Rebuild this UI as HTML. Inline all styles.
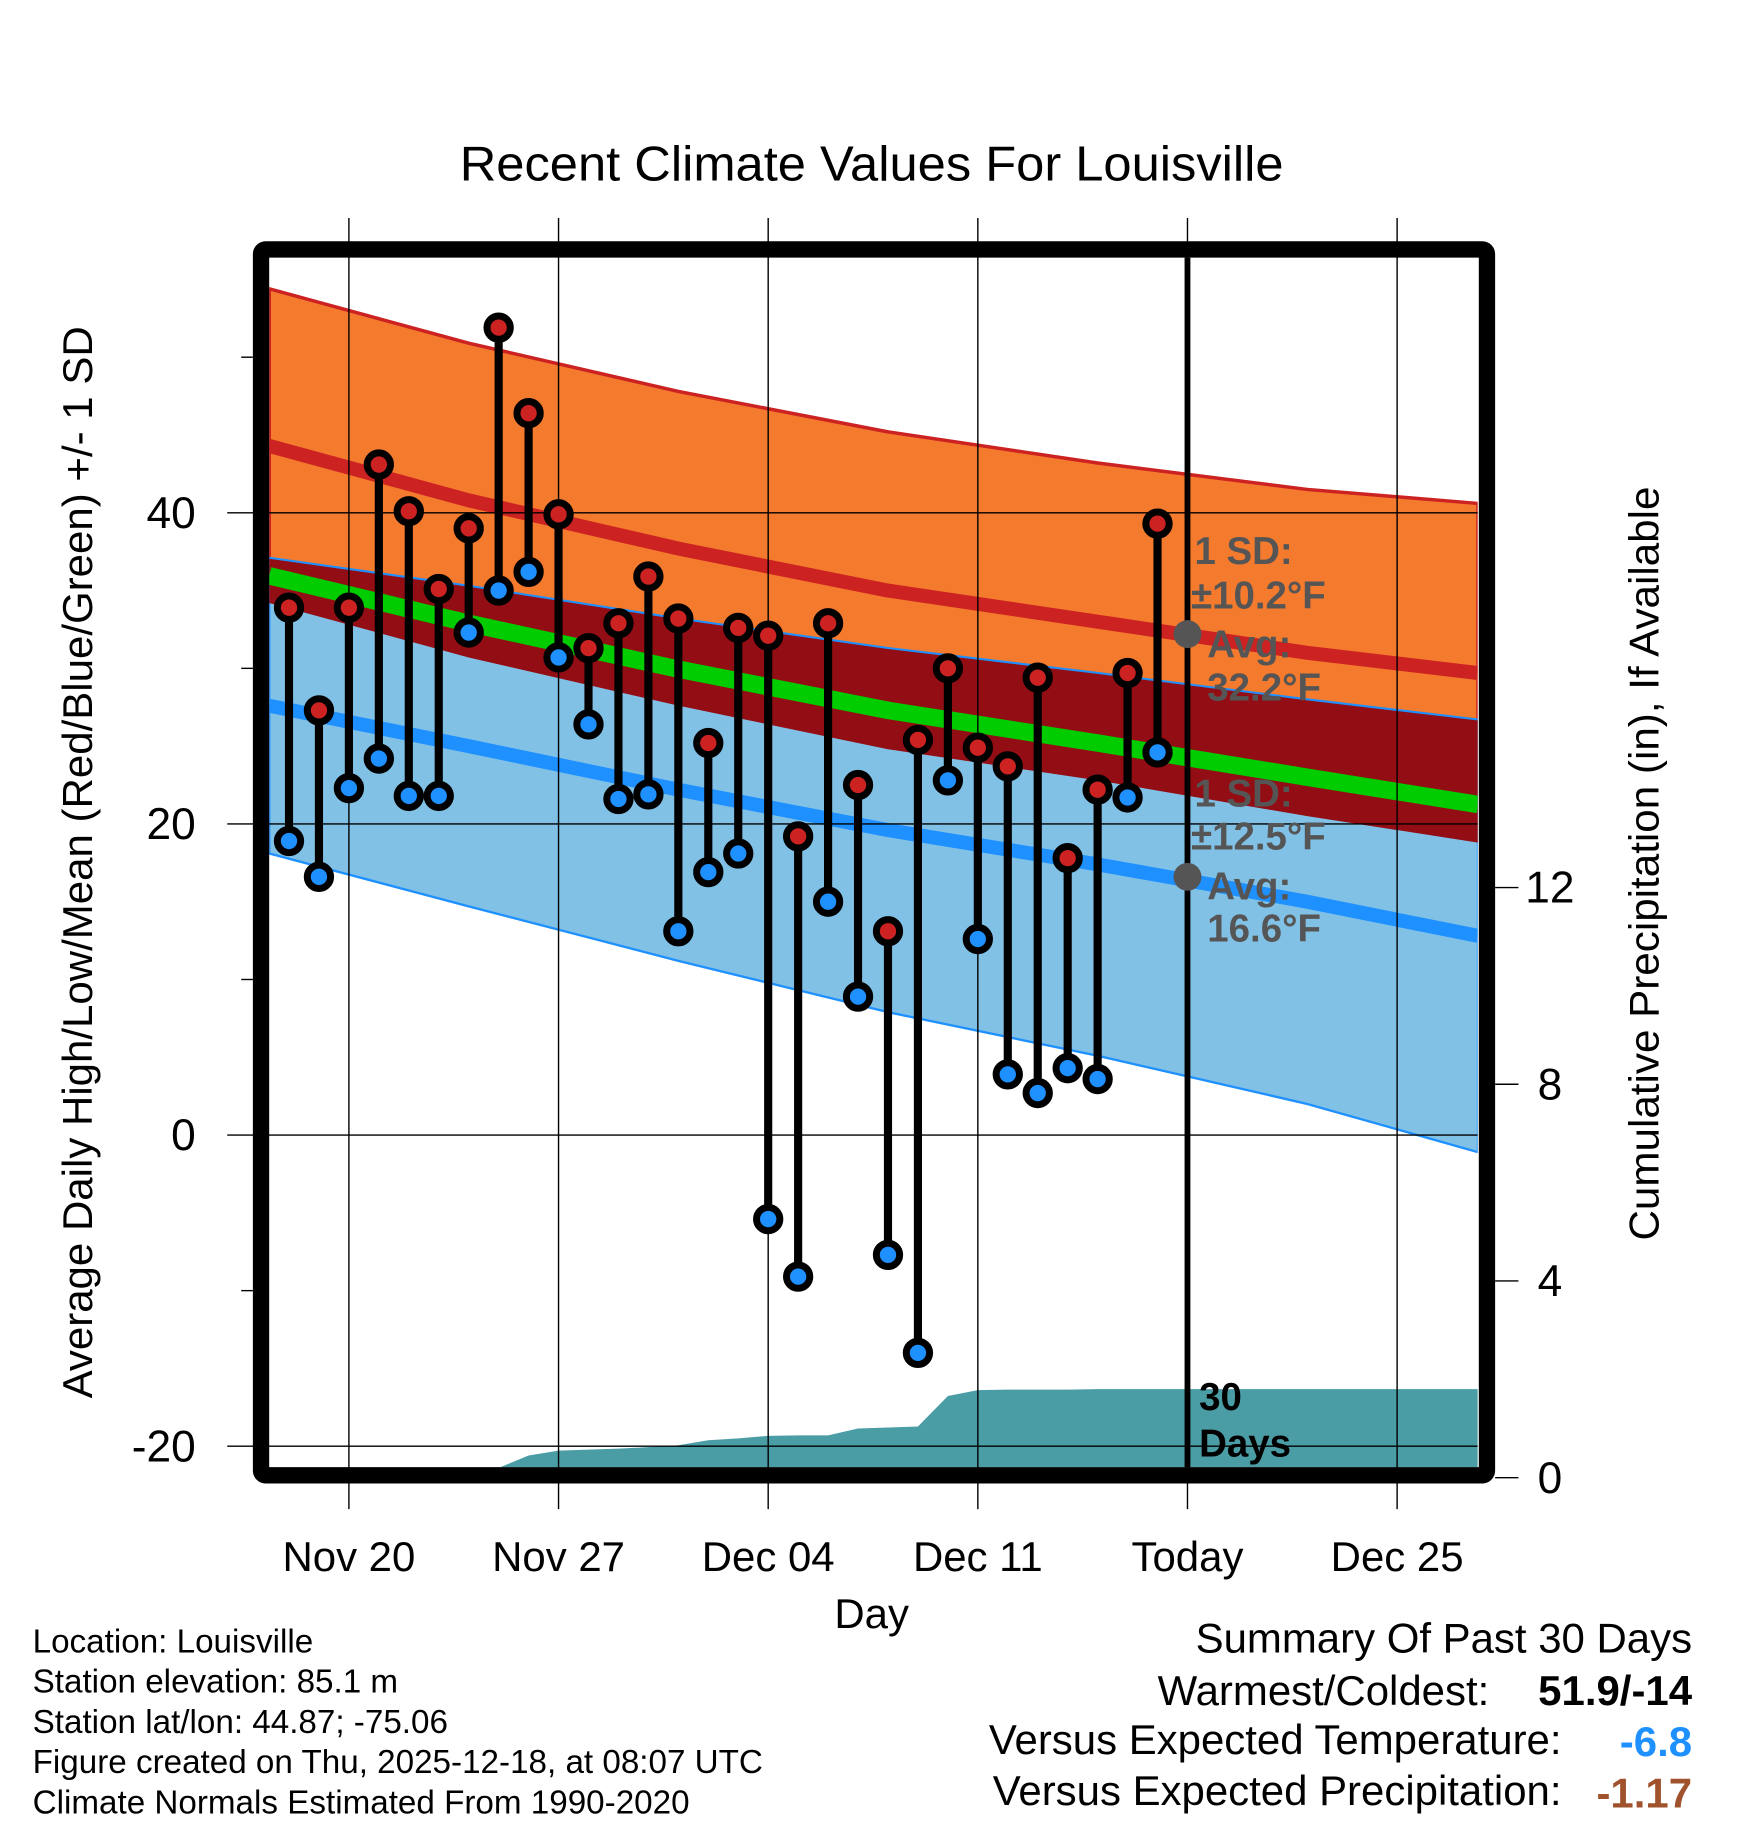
<!DOCTYPE html>
<html><head><meta charset="utf-8"><style>
html,body{margin:0;padding:0;background:#fff;}
svg{display:block;font-family:"Liberation Sans",sans-serif;}
</style></head><body>
<svg id="chart" width="1748" height="1828" viewBox="0 0 1500 1568.6" xmlns="http://www.w3.org/2000/svg">
<text x="748" y="155" font-size="42" text-anchor="middle" textLength="707" lengthAdjust="spacingAndGlyphs">Recent Climate Values For Louisville</text>
<g id="plot"></g>
</svg>
<script>
// ---- data ----
const dayLabels = ["Nov 20","Nov 27","Dec 04","Dec 11","Today","Dec 25"];
const dayLabelIdx = [3,10,17,24,31,38];
const highs = [33.9,27.3,33.9,43.1,40.1,35.1,39.0,51.9,46.4,39.9,31.3,32.9,35.9,33.2,25.2,32.6,32.1,19.2,32.9,22.5,13.1,25.4,30.0,24.9,23.7,29.4,17.8,22.2,29.7,39.3];
const lows  = [18.9,16.6,22.3,24.2,21.8,21.8,32.3,35.0,36.2,30.7,26.4,21.6,21.9,13.1,16.9,18.1,-5.4,-9.1,15.0,8.9,-7.7,-14.0,22.8,12.6,3.9,2.7,4.3,3.6,21.7,24.6];
const precip = [0,0,0,0,0,0,0,0.2,0.45,0.55,0.57,0.59,0.62,0.66,0.76,0.8,0.85,0.86,0.86,1.0,1.02,1.04,1.66,1.78,1.79,1.79,1.79,1.8,1.8,1.8];
const normDays = [0.34,7,14,21,28,35,40.7];
const normHigh = [44.3,40.8,37.7,35.0,33.0,31.0,29.7];
const sdHigh   = [10.1,10.1,10.1,10.2,10.2,10.5,10.9];
const normLow  = [27.6,25.0,22.2,19.6,17.4,15.0,12.8];
const sdLow    = [9.5,10.3,11.0,11.7,12.3,13.0,13.9];
const yTicks = [40,20,0,-20];
const yMinor = [50,30,10,-10];
const pTicks = [0,4,8,12];

// ---- scales ----
const X = d => 248 + (d-1)*25.7;
const Y = v => 974 - 13.35*v;
const P = p => 1268 - 42.2*p;
const L=231,R=1268,T=221,B=1259;
const NS="http://www.w3.org/2000/svg";
const g=document.getElementById('plot');
function mk(tag,attrs,parent){const e=document.createElementNS(NS,tag);for(const k in attrs)e.setAttribute(k,attrs[k]);(parent||g).appendChild(e);return e;}

const defs=mk('defs',{});
const cp=mk('clipPath',{id:'pc'},defs);mk('rect',{x:L,y:T,width:R-L,height:B-T},cp);
const pg=mk('g',{'clip-path':'url(#pc)'});

function series(fn){return normDays.map((d,i)=>[X(d),Y(fn(i))]);}
function band(top,bot){const a=top.concat(bot.slice().reverse());return a.map(p=>p.join(',')).join(' ');}
const hiT=series(i=>normHigh[i]+sdHigh[i]), hiB=series(i=>normHigh[i]-sdHigh[i]);
const loT=series(i=>normLow[i]+sdLow[i]), loB=series(i=>normLow[i]-sdLow[i]);
let e;
e=mk('polygon',{points:band(hiT,hiB),fill:'#f47a2e',stroke:'#cc2222','stroke-width':3},pg);


e=mk('polygon',{points:band(loT,loB),fill:'#82c1e6',stroke:'#1e90ff','stroke-width':2},pg);


e=mk('polygon',{points:band(loT,hiB),fill:'#920e14'},pg);


e=mk('polyline',{points:loT.map(p=>p.join(',')).join(' '),fill:'none',stroke:'#1e90ff','stroke-width':1.5},pg);


function line(pts,col,w){return mk('polyline',{points:pts.map(p=>p.join(',')).join(' '),fill:'none',stroke:col,'stroke-width':w},pg);}
e=line(series(i=>(normHigh[i]+normLow[i])/2),'#00cc00',15);


e=line(series(i=>normHigh[i]),'#cc2222',12);


e=line(series(i=>normLow[i]),'#1e90ff',12);



let pp=[[X(1),P(0)]];
precip.forEach((v,i)=>pp.push([X(i+1),P(v)]));
pp.push([R+10,P(precip[precip.length-1])]);pp.push([R+10,P(0)]);
e=mk('polygon',{points:pp.map(p=>p.join(',')).join(' '),fill:'#4a9ca5'},pg);



dayLabelIdx.forEach(d=>{
  e=mk('line',{x1:X(d),x2:X(d),y1:187,y2:1295,stroke:'#000','stroke-width':1.2});
  
  
});
yTicks.forEach(v=>{
  e=mk('line',{x1:195,x2:R,y1:Y(v),y2:Y(v),stroke:'#000','stroke-width':1.2});
  
  
  e=mk('text',{x:168,y:Y(v)+13,'font-size':38,'text-anchor':'end'});e.textContent=v;
  
  
});
yMinor.forEach(v=>{
  e=mk('line',{x1:207,x2:217,y1:Y(v),y2:Y(v),stroke:'#000','stroke-width':1.2});
  
  
});
pTicks.forEach(v=>{
  e=mk('line',{x1:1283,x2:1303,y1:P(v),y2:P(v),stroke:'#000','stroke-width':1.2});
  
  
  e=mk('text',{x:1330,y:P(v)+13,'font-size':38,'text-anchor':'middle'});e.textContent=v;
  
  
});
dayLabels.forEach((s,i)=>{
  e=mk('text',{x:X(dayLabelIdx[i]),y:1348,'font-size':36,'text-anchor':'middle'});e.textContent=s;
  
  
});

e=mk('line',{x1:X(31),x2:X(31),y1:T,y2:B,stroke:'#000','stroke-width':5});



highs.forEach((h,i)=>{
  const x=X(i+1);
  e=mk('line',{x1:x,x2:x,y1:Y(h),y2:Y(lows[i]),stroke:'#000','stroke-width':7});
  
  
});
highs.forEach((h,i)=>{
  const x=X(i+1);
  e=mk('circle',{cx:x,cy:Y(h),r:10,fill:'#cc2222',stroke:'#000','stroke-width':6});
  
  
  e=mk('circle',{cx:x,cy:Y(lows[i]),r:10,fill:'#1e90ff',stroke:'#000','stroke-width':6});
  
  
});

function txt(x,y,s,sz,w,col,anchor){const t=mk('text',{x:x,y:y,'font-size':sz,'font-weight':w,fill:col,'text-anchor':anchor||'start'});t.textContent=s;return t;}
const gc='#555';
const hiAvg=32.2, loAvg=16.6;
e=mk('circle',{cx:X(31),cy:Y(hiAvg),r:12,fill:gc});


e=mk('circle',{cx:X(31),cy:Y(loAvg),r:12,fill:gc});


e=txt(1025,484,'1 SD:',33,'bold',gc);


e=txt(1022,522,'±10.2°F',33,'bold',gc);


e=txt(1036,564,'Avg:',33,'bold',gc);


e=txt(1036,601,'32.2°F',33,'bold',gc);


e=txt(1025,692,'1 SD:',33,'bold',gc);


e=txt(1022,729,'±12.5°F',33,'bold',gc);


e=txt(1036,772,'Avg:',33,'bold',gc);


e=txt(1036,808,'16.6°F',33,'bold',gc);


e=txt(1029,1210,'30',33,'bold','#000');


e=txt(1029,1250,'Days',33,'bold','#000');



e=mk('rect',{x:224,y:214,width:1052,height:1052,fill:'none',stroke:'#000','stroke-width':14,rx:4});



e=txt(748,1397,'Day',36,'normal','#000','middle');


e=txt(0,0,'Average Daily High/Low/Mean (Red/Blue/Green) +/- 1 SD',36,'normal','#000','middle');
e.setAttribute('transform','translate(79,740) rotate(-90)');
e.setAttribute('textLength','920');
e.setAttribute('lengthAdjust','spacingAndGlyphs');


e=txt(0,0,'Cumulative Precipitation (in), If Available',36,'normal','#000','middle');
e.setAttribute('transform','translate(1423,741) rotate(-90)');
e.setAttribute('textLength','647');
e.setAttribute('lengthAdjust','spacingAndGlyphs');



const info=["Location: Louisville","Station elevation: 85.1 m","Station lat/lon: 44.87; -75.06","Figure created on Thu, 2025-12-18, at 08:07 UTC","Climate Normals Estimated From 1990-2020"];
info.forEach((s,i)=>{
  e=txt(28,1418+i*34.5,s,28.5,'normal','#000');
  
  
});
e=txt(1452,1418,'Summary Of Past 30 Days',36,'normal','#000','end');


e=txt(1278,1463,'Warmest/Coldest:',36,'normal','#000','end');


e=txt(1452,1463,'51.9/-14',36,'bold','#000','end');


e=txt(1340,1505,'Versus Expected Temperature:',36,'normal','#000','end');


e=txt(1452,1507,'-6.8',36,'bold','#1e90ff','end');


e=txt(1340,1549,'Versus Expected Precipitation:',36,'normal','#000','end');


e=txt(1452,1551,'-1.17',36,'bold','#a0522d','end');


</script>
</body></html>
